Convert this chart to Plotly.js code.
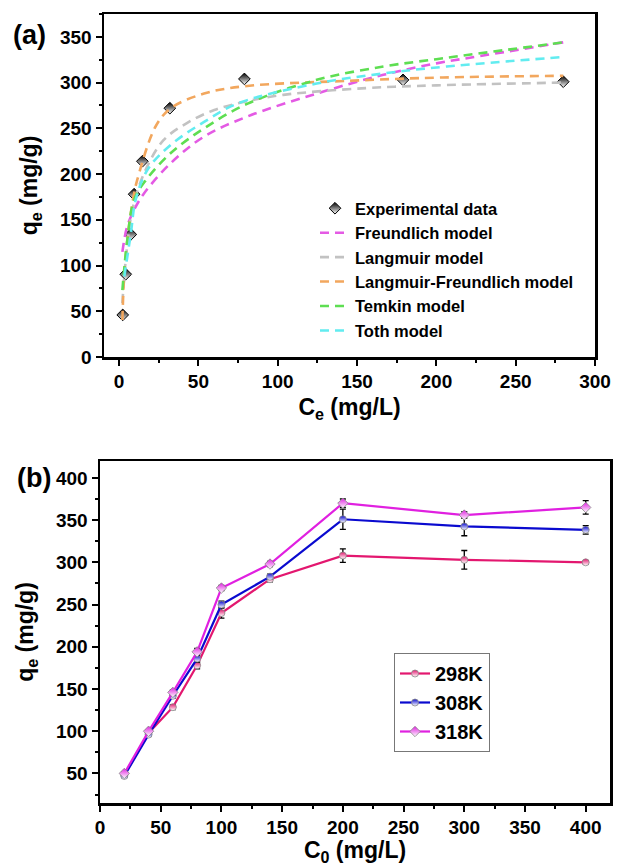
<!DOCTYPE html>
<html>
<head>
<meta charset="utf-8">
<script src="https://cdn.plot.ly/plotly-3.0.1.min.js"></script>
<style>html,body{margin:0;padding:0;background:#fff;}#chart{width:617px;height:866px;}</style>
</head>
<body>
<div id="chart"></div>
<script>
// ---------- Panel (a) data ----------
const expC = [2.3, 4.2, 7.4, 9.5, 14.7, 32, 79, 179, 280];
const expQ = [46, 90.5, 134, 178, 214, 272, 304, 303, 301];

const freC = [2.1, 5, 9.5, 15.8, 32.6, 53.6, 81, 124.6, 166.6, 200, 227.5, 280];
const freQ = [115, 142, 161, 179, 212, 241, 263, 288, 308.5, 321, 329, 344];

const lanC = [2.1, 4.2, 8.4, 15.8, 28, 43, 60, 79, 103.5, 156, 200, 280];
const lanQ = [59, 106, 161, 201, 237, 256, 270, 279, 286.6, 294, 297, 300];

const lfC = [2.1, 3.2, 6, 9.5, 11.5, 23, 32.6, 53.6, 79, 145.6, 204, 280];
const lfQ = [40.5, 88, 140, 179, 194, 252, 272, 288, 296, 302, 305.6, 307.4];

const temC = [2.1, 5.2, 9.5, 16.3, 32.6, 53.6, 81, 124.6, 166.6, 200, 227.5, 280];
const temQ = [73, 128, 172, 192, 223, 250, 277, 303, 317.6, 325.6, 332, 344];

const totC = [3.3, 7.4, 10.5, 18, 32.6, 53.6, 74.5, 124.6, 166.6, 206.5, 280];
const totQ = [88, 135, 172, 205, 232, 257, 277, 299, 310, 317.6, 328];

// ---------- Panel (b) data ----------
const c0 = [20, 40, 60, 80, 100, 140, 200, 300, 400];
const q298 = [48, 98, 128.5, 178, 240, 280, 308, 303, 300];
const e298 = [2, 2, 3, 4, 6, 3, 8, 11, 2];
const q308 = [47, 96, 142, 186, 250, 283, 351, 342.5, 338.5];
const e308 = [2, 2, 3, 4, 4, 3, 12, 11, 5];
const q318 = [50, 100, 146, 194, 269.6, 298, 370, 356, 365];
const e318 = [2, 2, 3, 4, 3, 3, 5, 4, 8];

const FONT = 'Liberation Sans, Arial, sans-serif';
const dashLine = (c) => ({color: c, width: 2.6, dash: '9px,6px', shape: 'spline'});

const traces = [
  {x: expC, y: expQ, mode: 'markers', name: 'Experimental data', xaxis: 'x', yaxis: 'y', legend: 'legend',
   marker: {symbol: 'diamond', size: 9, color: '#000', gradient: {type: 'vertical', color: '#fff'}, line: {color: '#000', width: 1}}},
  {x: freC, y: freQ, mode: 'lines', name: 'Freundlich model', xaxis: 'x', yaxis: 'y', legend: 'legend', line: dashLine('#E45AE4')},
  {x: lanC, y: lanQ, mode: 'lines', name: 'Langmuir model', xaxis: 'x', yaxis: 'y', legend: 'legend', line: dashLine('#C2C2C2')},
  {x: lfC, y: lfQ, mode: 'lines', name: 'Langmuir-Freundlich model', xaxis: 'x', yaxis: 'y', legend: 'legend', line: dashLine('#F2A75E')},
  {x: temC, y: temQ, mode: 'lines', name: 'Temkin model', xaxis: 'x', yaxis: 'y', legend: 'legend', line: dashLine('#5EDE52')},
  {x: totC, y: totQ, mode: 'lines', name: 'Toth model', xaxis: 'x', yaxis: 'y', legend: 'legend', line: dashLine('#62ECF0')},

  {x: c0, y: q298, mode: 'lines+markers', name: '298K', xaxis: 'x2', yaxis: 'y2', legend: 'legend2',
   line: {color: '#E3176F', width: 2.2},
   marker: {symbol: 'circle', size: 7, color: '#E3176F', gradient: {type: 'vertical', color: '#fff'}, line: {color: '#888', width: 0.8}},
   error_y: {type: 'data', array: e298, visible: true, color: '#000', thickness: 1.3, width: 3}},
  {x: c0, y: q308, mode: 'lines+markers', name: '308K', xaxis: 'x2', yaxis: 'y2', legend: 'legend2',
   line: {color: '#0A0ACF', width: 2.2},
   marker: {symbol: 'circle', size: 7, color: '#0A0ACF', gradient: {type: 'vertical', color: '#fff'}, line: {color: '#888', width: 0.8}},
   error_y: {type: 'data', array: e308, visible: true, color: '#000', thickness: 1.3, width: 3}},
  {x: c0, y: q318, mode: 'lines+markers', name: '318K', xaxis: 'x2', yaxis: 'y2', legend: 'legend2',
   line: {color: '#E020E0', width: 2.2},
   marker: {symbol: 'diamond', size: 8, color: '#E020E0', gradient: {type: 'vertical', color: '#fff'}, line: {color: '#888', width: 0.8}},
   error_y: {type: 'data', array: e318, visible: true, color: '#000', thickness: 1.3, width: 3}}
];

const tickFont = {family: FONT, size: 19, color: '#000', weight: 700};
const titleFont = {family: FONT, size: 23, color: '#000', weight: 700};
const axisBase = {
  showline: true, linecolor: '#000', linewidth: 2.5, mirror: true,
  ticks: 'outside', ticklen: 6, tickwidth: 2, tickcolor: '#000',
  showgrid: false, zeroline: false, tickfont: tickFont, automargin: false
};

const layout = {
  width: 617, height: 866,
  margin: {l: 0, r: 0, t: 0, b: 0},
  paper_bgcolor: '#fff', plot_bgcolor: '#fff',
  showlegend: true,
  xaxis: Object.assign({}, axisBase, {
    domain: [104/617, 595/617], anchor: 'y', range: [-9.5, 300], dtick: 50,
    minor: {dtick: 25, ticks: 'outside', ticklen: 3, tickwidth: 2, tickcolor: '#000'},
    title: {text: 'C<sub>e</sub> (mg/L)', font: titleFont, standoff: 8}
  }),
  yaxis: Object.assign({}, axisBase, {
    domain: [1 - 357/866, 1 - 14/866], anchor: 'x', range: [0, 375], dtick: 50,
    minor: {dtick: 25, ticks: 'outside', ticklen: 3, tickwidth: 2, tickcolor: '#000'},
    title: {text: 'q<sub>e</sub> (mg/g)', font: titleFont, standoff: 16}
  }),
  xaxis2: Object.assign({}, axisBase, {
    domain: [100/617, 610/617], anchor: 'y2', range: [0, 420], dtick: 50,
    minor: {dtick: 25, ticks: 'outside', ticklen: 3, tickwidth: 2, tickcolor: '#000'},
    title: {text: 'C<sub>0</sub> (mg/L)', font: titleFont, standoff: 8}
  }),
  yaxis2: Object.assign({}, axisBase, {
    domain: [1 - 803/866, 1 - 461/866], anchor: 'x2', range: [15, 420], tick0: 0, dtick: 50,
    minor: {dtick: 25, ticks: 'outside', ticklen: 3, tickwidth: 2, tickcolor: '#000'},
    title: {text: 'q<sub>e</sub> (mg/g)', font: titleFont, standoff: 16}
  }),
  legend: {
    x: 315/617, y: 1 - 191/866, xanchor: 'left', yanchor: 'top',
    bgcolor: 'rgba(0,0,0,0)', borderwidth: 0,
    font: {family: FONT, size: 16.5, color: '#000', weight: 700},
    tracegroupgap: 0, itemwidth: 30
  },
  legend2: {
    x: 394/617, y: 1 - 653/866, xanchor: 'left', yanchor: 'top',
    bgcolor: '#fff', bordercolor: '#777', borderwidth: 1,
    font: {family: FONT, size: 20, color: '#000', weight: 700},
    itemwidth: 30
  },
  annotations: [
    {text: '(a)', xref: 'paper', yref: 'paper', x: 11/617, y: 1 - 35/866, xanchor: 'left', yanchor: 'middle',
     showarrow: false, font: {family: FONT, size: 27, color: '#000', weight: 700}},
    {text: '(b)', xref: 'paper', yref: 'paper', x: 15/617, y: 1 - 478/866, xanchor: 'left', yanchor: 'middle',
     showarrow: false, font: {family: FONT, size: 27, color: '#000', weight: 700}}
  ]
};

Plotly.newPlot('chart', traces, layout, {displayModeBar: false, staticPlot: true});
</script>
</body>
</html>
